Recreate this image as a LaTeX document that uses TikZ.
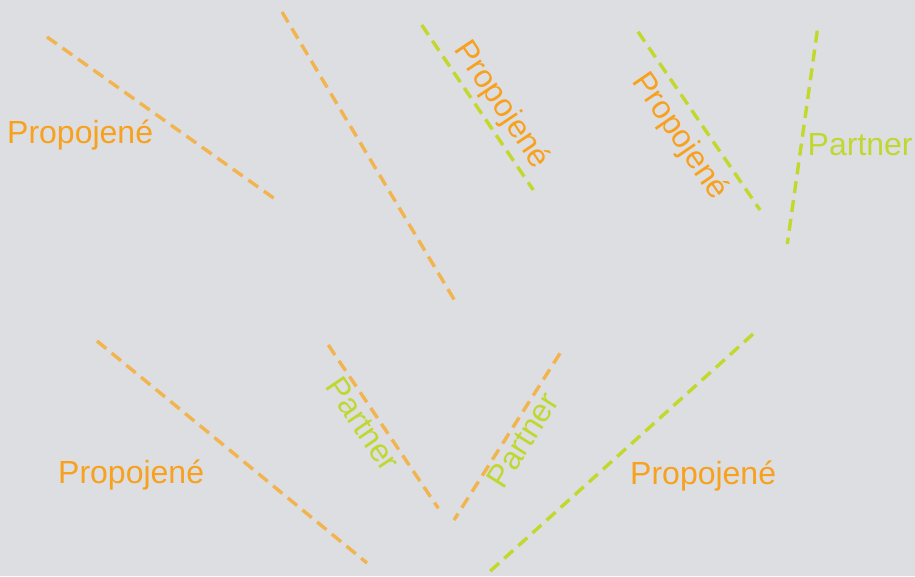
\documentclass[tikz,border=0pt]{standalone}
\usepackage{fontspec}
\setmainfont{Liberation Sans}
\definecolor{bgc}{RGB}{221,222,226}
\definecolor{lorange}{RGB}{242,180,78}
\definecolor{torange}{RGB}{247,161,30}
\definecolor{lgreen}{RGB}{195,216,44}
\definecolor{tgreen}{RGB}{192,215,50}
\begin{document}
\begin{tikzpicture}[x=1pt,y=-1pt,
  conn/.style={line width=3.4pt, dash pattern=on 12pt off 7pt},
  oconn/.style={conn, draw=lorange},
  gconn/.style={conn, draw=lgreen},
  lbl/.style={inner sep=0pt, font=\fontsize{32}{36}\selectfont},
  olbl/.style={lbl, text=torange},
  glbl/.style={lbl, text=tgreen}]
\fill[bgc] (0,0) rectangle (915,576);
\useasboundingbox (0,0) rectangle (915,576);
% line end points
\coordinate (a1) at (47,37);    \coordinate (a2) at (275,199);
\coordinate (b1) at (282,12);   \coordinate (b2) at (455,301);
\coordinate (c1) at (421.7,25); \coordinate (c2) at (533.3,190);
\coordinate (d1) at (638,31.7); \coordinate (d2) at (760,210);
\coordinate (e1) at (817.3,30.7); \coordinate (e2) at (787.3,244);
\coordinate (f1) at (97,341);   \coordinate (f2) at (367,563);
\coordinate (g1) at (328.3,345); \coordinate (g2) at (438.3,508.3);
\coordinate (h1) at (560,353.3); \coordinate (h2) at (454,520);
\coordinate (i1) at (753,334);  \coordinate (i2) at (487,574);
\draw[oconn] (a1) -- (a2);
\draw[oconn] (b1) -- (b2);
\draw[gconn] (c1) -- (c2);
\draw[gconn] (d1) -- (d2);
\draw[gconn] (e1) -- (e2);
\draw[oconn] (f1) -- (f2);
\draw[oconn] (g1) -- (g2);
\draw[oconn] (h1) -- (h2);
\draw[gconn] (i1) -- (i2);
% labels
\node[olbl, anchor=base west] (t1) at (7,143) {Propojené};
\node[glbl, anchor=base west] (t2) at (807.5,155) {Partner};
\node[olbl, anchor=base west] (t3) at (58,483.3) {Propojené};
\node[olbl, anchor=base west] (t4) at (630,484.3) {Propojené};
\node[olbl, anchor=base, rotate=-56.1] (t5) at (494.2,110) {Propojené};
\node[olbl, anchor=base, rotate=-55.6] (t6) at (672.5,141.3) {Propojené};
\node[glbl, anchor=base, rotate=-56.0] (t7) at (354,430.3) {Partner};
\node[glbl, anchor=base, rotate=57.6] (t8) at (531.7,446.2) {Partner};
\end{tikzpicture}
\end{document}
